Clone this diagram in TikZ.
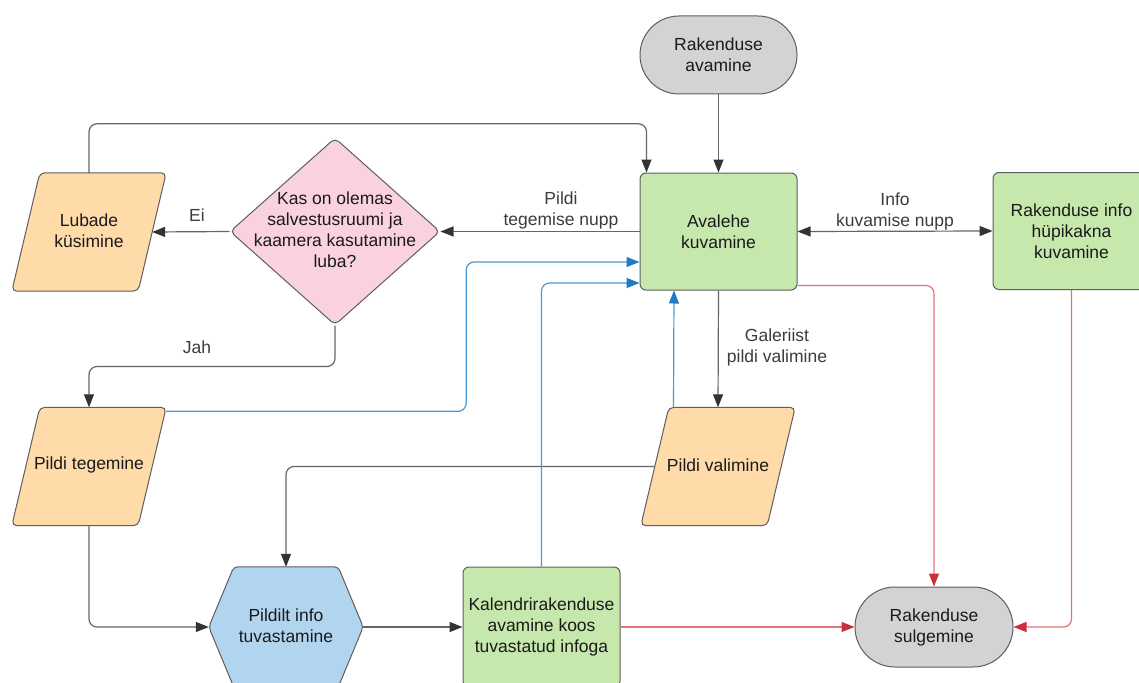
\documentclass[tikz,border=0pt]{standalone}
\usepackage{fontspec}
\setmainfont{Liberation Sans}
\usetikzlibrary{shapes.geometric,arrows.meta,calc}
\definecolor{cgray}{HTML}{D2D3D5}
\definecolor{cgreen}{HTML}{C7E8AC}
\definecolor{corange}{HTML}{FFDBA9}
\definecolor{cpink}{HTML}{F9D2DE}
\definecolor{cblue}{HTML}{B2D5EF}
\definecolor{cborder}{HTML}{5E5E5E}
\definecolor{ctext}{HTML}{1A1A1A}
\definecolor{clabel}{HTML}{3C3C3C}
\definecolor{cline}{HTML}{666666}
\definecolor{chead}{HTML}{333333}
\definecolor{bline}{HTML}{4A9AD3}
\definecolor{bhead}{HTML}{1F7CC2}
\definecolor{rline}{HTML}{E2727D}
\definecolor{rhead}{HTML}{CC2E3B}
\tikzset{
  base/.style={draw=cborder, line width=1pt, text=ctext, align=center,
    font=\fontsize{17.5}{21}\selectfont, inner sep=0pt},
  term/.style={base, fill=cgray, rectangle, rounded corners=39pt,
    minimum width=157pt, minimum height=78pt},
  proc/.style={base, fill=cgreen, rectangle, rounded corners=6pt,
    minimum width=157pt, minimum height=117pt},
  iobox/.style={rectangle, inner sep=0pt, minimum width=154pt, minimum height=118pt},
  iodraw/.style={draw=cborder, line width=1pt, fill=corange, rounded corners=5pt},
  decision/.style={base, fill=cpink, diamond, minimum width=210pt,
    minimum height=187pt, rounded corners=5pt},
  hexbox/.style={rectangle, inner sep=0pt, minimum width=154pt, minimum height=120pt},
  hexdraw/.style={draw=cborder, line width=1pt, fill=cblue, rounded corners=4pt},
  txt/.style={text=ctext, align=center, font=\fontsize{17.5}{21}\selectfont, inner sep=0pt},
  lbl/.style={text=clabel, align=center, font=\fontsize{17.5}{21}\selectfont, inner sep=0pt},
  conn/.style={draw=cline, line width=1.2pt, rounded corners=8pt,
    -{Triangle[length=13pt,width=10pt,fill=chead,color=chead]}},
  dconn/.style={draw=cline, line width=1.2pt,
    {Triangle[length=13pt,width=10pt,fill=chead,color=chead]}-{Triangle[length=13pt,width=10pt,fill=chead,color=chead]}},
  bconn/.style={draw=bline, line width=1.2pt, rounded corners=8pt,
    -{Triangle[length=13pt,width=10pt,fill=bhead,color=bhead]}},
  rconn/.style={draw=rline, line width=1.2pt, rounded corners=8pt,
    -{Triangle[length=13pt,width=10pt,fill=rhead,color=rhead]}},
}
\begin{document}
\begin{tikzpicture}[x=1pt,y=-1pt]
\useasboundingbox (0,0) rectangle (1139,682);
\fill[white] (0,0) rectangle (1139,682);

% nodes
\node[term] (start) at (718.5,55) {Rakenduse\\avamine};
\node[proc] (home) at (718.5,231.5) {Avalehe\\kuvamine};
\node[proc] (info) at (1071.5,231) {Rakenduse info\\hüpikakna\\kuvamine};

\node[iobox] (ask) at (89,232) {};
\filldraw[iodraw] (ask.south west) -- ([xshift=-28pt]ask.south east) -- (ask.north east)
  -- ([xshift=28pt]ask.north west) -- cycle;
\node[txt] (asktext) at (89,231) {Lubade\\küsimine};

\node[decision] (dec) at (335,231.5) {};
\node[txt] (dectext) at (335,230) {Kas on olemas\\salvestusruumi ja\\kaamera kasutamine\\luba?};

\node[iobox] (take) at (89,466.5) {};
\filldraw[iodraw] (take.south west) -- ([xshift=-28pt]take.south east) -- (take.north east)
  -- ([xshift=28pt]take.north west) -- cycle;
\node[txt] (taketext) at (89,465) {Pildi tegemine};

\node[iobox] (pick) at (718,466.5) {};
\filldraw[iodraw] (pick.south west) -- ([xshift=-28pt]pick.south east) -- (pick.north east)
  -- ([xshift=28pt]pick.north west) -- cycle;
\node[txt] (picktext) at (718,465) {Pildi valimine};

\node[hexbox] (hex) at (286,627) {};
\filldraw[hexdraw] (hex.west) -- ([xshift=25pt]hex.north west) -- ([xshift=-25pt]hex.north east)
  -- (hex.east) -- ([xshift=-25pt]hex.south east) -- ([xshift=25pt]hex.south west) -- cycle;
\node[txt] (hextext) at (286,625.5) {Pildilt info\\tuvastamine};
\node[proc, minimum height=120pt] (cal) at (541.5,627) {Kalendrirakenduse\\avamine koos\\tuvastatud infoga};
\node[term, minimum width=158pt, minimum height=80pt, rounded corners=40pt] (end) at (934,627) {Rakenduse\\sulgemine};

% labels
\node[lbl] (l1) at (561,210.5) {Pildi\\tegemise nupp};
\node[lbl] (l2) at (197,215) {Ei};
\node[lbl] (l3) at (197,347) {Jah};
\node[lbl] (l4) at (895,211) {Info\\kuvamise nupp};
\node[lbl] (l5) at (777,347) {Galeriist\\pildi valimine};

% gray connectors
\draw[conn] (start.south) -- (home.north);
\draw[conn] (home.west) -- (dec.east);
\draw[conn] (dec.west) -- ([xshift=-14pt]ask.east);
\draw[conn] (dec.south) -- ++(0,41) -| (take.north);
\draw[conn] (ask.north) -- ++(0,-49) -| ([xshift=7pt]home.north west);
\draw[dconn] (home.east) -- (info.west);
\draw[conn] (home.south) -- (pick.north);
\draw[conn] ([xshift=14pt]pick.west) -| (hex.north);
\draw[conn] (take.south) |- (hex.west);
\draw[conn] (hex.east) -- (cal.west);

% blue connectors
\draw[bconn] ([yshift=-4pt]take.north east) -| ++(300,-60) |- ([yshift=-30.5pt]home.west);
\draw[bconn] (cal.north) |- ([yshift=-51.5pt]home.west);
\draw[bconn] ([xshift=-44.5pt]pick.north) -- ([xshift=-44.5pt]home.south);

% red connectors
\draw[rconn] (cal.east) -- (end.west);
\draw[rconn] ([yshift=5pt]home.south east) -| (end.north);
\draw[rconn] (info.south) |- (end.east);
\end{tikzpicture}
\end{document}
